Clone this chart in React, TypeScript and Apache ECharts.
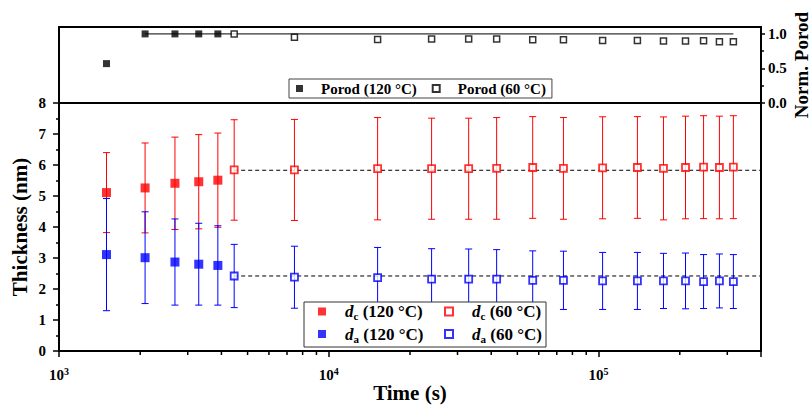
import React, { useEffect, useRef } from "react";
import * as echarts from "echarts";

const FONT = "Liberation Serif, Times New Roman, serif";

// time (s)
const time120 = [1500, 2085, 2690, 3296, 3880];
const time60 = [4460, 7460, 15170, 24050, 33000, 41900, 57000, 74100, 103500, 139300, 174000, 210000, 245000, 280500, 316000];

// normalized Porod
const porod120 = [0.57, 1.0, 1.0, 1.0, 1.0];
const porod60 = [1.0, 0.95, 0.92, 0.925, 0.925, 0.925, 0.917, 0.917, 0.906, 0.906, 0.896, 0.896, 0.9, 0.887, 0.887];
const porodRef = 1.0;

// thickness (nm)
const dc120 = [5.11, 5.26, 5.41, 5.46, 5.51];
const dc120Err = [1.29, 1.45, 1.49, 1.52, 1.52];
const da120 = [3.11, 3.01, 2.87, 2.8, 2.76];
const da120Err = [1.81, 1.48, 1.39, 1.32, 1.28];

const dc60 = [5.84, 5.84, 5.88, 5.88, 5.88, 5.89, 5.92, 5.89, 5.91, 5.92, 5.89, 5.92, 5.93, 5.92, 5.93];
const dc60Err = [1.62, 1.63, 1.65, 1.63, 1.63, 1.64, 1.64, 1.64, 1.645, 1.64, 1.66, 1.655, 1.66, 1.655, 1.66];
const da60 = [2.42, 2.38, 2.37, 2.32, 2.32, 2.32, 2.28, 2.28, 2.26, 2.26, 2.26, 2.26, 2.24, 2.26, 2.24];
const da60Err = [1.02, 1.0, 0.97, 0.98, 0.97, 0.95, 0.95, 0.94, 0.92, 0.92, 0.89, 0.9, 0.87, 0.87, 0.87];

const dcMean60 = 5.83;
const daMean60 = 2.42;

const xMin = 1000;
const xMax = 400000;
const minorTickValues = [2000, 3000, 4000, 5000, 6000, 7000, 8000, 9000, 20000, 30000, 40000, 50000, 60000, 70000, 80000, 90000, 200000, 300000];

const RED = "#ff0000";
const BLUE = "#0000ff";

const legendNames: Record<string, [string, string]> = {
  dc120: ["c", " (120 °C)"],
  da120: ["a", " (120 °C)"],
  dc60: ["c", " (60 °C)"],
  da60: ["a", " (60 °C)"],
};

function pairs(xs: number[], ys: number[]) {
  return xs.map((x, i) => [x, ys[i]]);
}
function errData(xs: number[], ys: number[], es: number[]) {
  return xs.map((x, i) => [x, ys[i] - es[i], ys[i] + es[i]]);
}

function errorBarSeries(name: string, data: number[][], color: string) {
  return {
    name,
    type: "custom",
    xAxisIndex: 1,
    yAxisIndex: 1,
    z: 2,
    silent: true,
    encode: { x: 0, y: [1, 2] },
    data,
    renderItem: (params: any, api: any) => {
      const x = api.value(0);
      const lo = api.coord([x, api.value(1)]);
      const hi = api.coord([x, api.value(2)]);
      const hw = 3.5;
      const style = { stroke: color, lineWidth: 1 };
      return {
        type: "group",
        children: [
          { type: "line", shape: { x1: lo[0], y1: lo[1], x2: hi[0], y2: hi[1] }, style },
          { type: "line", shape: { x1: hi[0] - hw, y1: hi[1], x2: hi[0] + hw, y2: hi[1] }, style },
          { type: "line", shape: { x1: lo[0] - hw, y1: lo[1], x2: lo[0] + hw, y2: lo[1] }, style },
        ],
      };
    },
  };
}

const isPow10 = (v: number) => {
  const l = Math.log10(v);
  return Math.abs(l - Math.round(l)) < 1e-6;
};

export default function App() {
  const ref = useRef<HTMLDivElement>(null);
  useEffect(() => {
    document.body.style.margin = "0";
    const chart = echarts.init(ref.current!, undefined, { renderer: "svg" });
    const bold = { fontFamily: FONT, fontWeight: "bold" as const, color: "#000" };
    const legendRich = {
      i: { ...bold, fontStyle: "italic", fontSize: 17, lineHeight: 20, padding: [0, 0, 0, 14] },
      s: { ...bold, fontSize: 11, lineHeight: 11, verticalAlign: "bottom" },
      t: { ...bold, fontSize: 17, lineHeight: 20 },
    };
    const legendFmt = (name: string) => {
      const [sub, rest] = legendNames[name];
      return `{i|d}{s|${sub}}{t|${rest}}`;
    };
    const gridBase = {
      left: 59,
      right: 50,
      show: true,
      borderColor: "#000",
      borderWidth: 2,
      backgroundColor: "transparent",
      containLabel: false,
      outerBoundsMode: "none",
    };
    const option: any = {
      animation: false,
      backgroundColor: "#fff",
      textStyle: { fontFamily: FONT },
      grid: [
        { ...gridBase, top: 27, height: 76 },
        { ...gridBase, top: 103, height: 248 },
      ],
      xAxis: [
        { type: "log", gridIndex: 0, min: xMin, max: xMax, logBase: 10, show: false },
        {
          type: "log",
          gridIndex: 1,
          min: xMin,
          max: xMax,
          logBase: 10,
          axisLine: { onZero: false, lineStyle: { color: "#000", width: 2 } },
          axisTick: { show: true, length: 6, lineStyle: { color: "#000", width: 1.5 } },
          splitLine: { show: false },
          axisLabel: {
            margin: 15,
            formatter: (v: number) => (isPow10(v) ? `{b|10}{e|${Math.round(Math.log10(v))}}` : ""),
            rich: {
              b: { ...bold, fontSize: 15, lineHeight: 18 },
              e: { ...bold, fontSize: 10, lineHeight: 10, verticalAlign: "top" },
            },
          },
          name: "Time (s)",
          nameLocation: "middle",
          nameGap: 31,
          nameMoveOverlap: false,
          nameTextStyle: { ...bold, fontSize: 21 },
        },
      ],
      yAxis: [
        {
          type: "value",
          gridIndex: 0,
          position: "right",
          min: 0,
          max: 1.1,
          splitLine: { show: false },
          axisLine: { show: true, lineStyle: { color: "#000", width: 2 } },
          axisTick: { show: true, length: 4, customValues: [0, 0.5, 1], lineStyle: { color: "#000", width: 1.5 } },
          axisLabel: { ...bold, fontSize: 15, margin: 7, customValues: [0, 0.5, 1], formatter: (v: number) => v.toFixed(1) },
          name: "Norm. Porod",
          nameLocation: "middle",
          nameRotate: 90,
          nameGap: 31,
          nameMoveOverlap: false,
          nameTextStyle: { ...bold, fontSize: 19 },
        },
        {
          type: "value",
          gridIndex: 1,
          min: 0,
          max: 8,
          interval: 1,
          splitLine: { show: false },
          axisLine: { show: true, lineStyle: { color: "#000", width: 2 } },
          axisTick: { show: true, length: 6, lineStyle: { color: "#000", width: 1.5 } },
          minorTick: { show: true, splitNumber: 2, length: 3, lineStyle: { color: "#000", width: 1.5 } },
          axisLabel: { ...bold, fontSize: 15, margin: 13 },
          name: "Thickness (nm)",
          nameLocation: "middle",
          nameGap: 29,
          nameMoveOverlap: false,
          nameTextStyle: { ...bold, fontSize: 21 },
        },
        {
          type: "value",
          gridIndex: 0,
          position: "right",
          min: 0,
          max: 1.1,
          splitLine: { show: false },
          axisLine: { show: false },
          axisTick: { show: true, length: 3, customValues: [0.25, 0.75], lineStyle: { color: "#000", width: 1.5 } },
          axisLabel: { show: false },
        },
      ],
      legend: [
        {
          data: ["Porod (120 °C)", "Porod (60 °C)"],
          left: 289,
          top: 79,
          orient: "horizontal",
          itemWidth: 7,
          itemHeight: 7,
          itemGap: 15,
          padding: [2, 6, 2, 7],
          borderColor: "#444",
          borderWidth: 1,
          backgroundColor: "#fff",
          selectedMode: false,
          formatter: (n: string) => `{p|${n}}`,
          textStyle: { ...bold, fontSize: 15, rich: { p: { ...bold, fontSize: 15, lineHeight: 17, padding: [0, 0, 0, 13] } } },
        },
        {
          data: ["dc120", "da120"],
          left: 318,
          top: 303,
          orient: "vertical",
          itemWidth: 8,
          itemHeight: 8,
          itemGap: 4,
          padding: 0,
          selectedMode: false,
          formatter: legendFmt,
          textStyle: { ...bold, fontSize: 17, rich: legendRich },
        },
        {
          data: ["dc60", "da60"],
          left: 444,
          top: 303,
          orient: "vertical",
          itemWidth: 8,
          itemHeight: 8,
          itemGap: 4,
          padding: 0,
          selectedMode: false,
          formatter: legendFmt,
          textStyle: { ...bold, fontSize: 17, rich: legendRich },
        },
      ],
      graphic: [
        {
          type: "rect",
          z: 3,
          shape: { x: 304, y: 302, width: 242, height: 45 },
          style: { fill: "#fff", stroke: "#333", lineWidth: 1 },
          silent: true,
        },
      ],
      series: [
        {
          name: "porodRef",
          type: "line",
          xAxisIndex: 0,
          yAxisIndex: 0,
          data: [[time120[1], porodRef], [time60[time60.length - 1], porodRef]],
          symbol: "none",
          lineStyle: { color: "#000", width: 1 },
          silent: true,
          z: 2,
        },
        {
          name: "Porod (120 °C)",
          type: "scatter",
          xAxisIndex: 0,
          yAxisIndex: 0,
          symbol: "rect",
          symbolSize: 7,
          itemStyle: { color: "#000" },
          data: pairs(time120, porod120),
          z: 3,
        },
        {
          name: "Porod (60 °C)",
          type: "scatter",
          xAxisIndex: 0,
          yAxisIndex: 0,
          symbol: "rect",
          symbolSize: 6,
          itemStyle: { color: "#fff", borderColor: "#000", borderWidth: 1.5 },
          data: pairs(time60, porod60),
          z: 3,
        },
        {
          name: "minorTicks",
          type: "custom",
          xAxisIndex: 1,
          yAxisIndex: 1,
          silent: true,
          clip: false,
          z: 5,
          encode: { x: 0, y: 1 },
          data: minorTickValues.map((v) => [v, 0]),
          renderItem: (params: any, api: any) => {
            const p = api.coord([api.value(0), 0]);
            return { type: "line", shape: { x1: p[0], y1: p[1], x2: p[0], y2: p[1] + 4 }, style: { stroke: "#000", lineWidth: 1.5 } };
          },
        },
        {
          name: "dcRef",
          type: "line",
          xAxisIndex: 1,
          yAxisIndex: 1,
          data: [[time60[0], dcMean60], [xMax, dcMean60]],
          symbol: "none",
          lineStyle: { color: "#000", width: 1, type: [4, 3] },
          silent: true,
          z: 2,
        },
        {
          name: "daRef",
          type: "line",
          xAxisIndex: 1,
          yAxisIndex: 1,
          data: [[time60[0], daMean60], [xMax, daMean60]],
          symbol: "none",
          lineStyle: { color: "#000", width: 1, type: [4, 3] },
          silent: true,
          z: 2,
        },
        errorBarSeries("dc120err", errData(time120, dc120, dc120Err), RED),
        errorBarSeries("da120err", errData(time120, da120, da120Err), BLUE),
        errorBarSeries("dc60err", errData(time60, dc60, dc60Err), RED),
        errorBarSeries("da60err", errData(time60, da60, da60Err), BLUE),
        {
          name: "dc120",
          type: "scatter",
          xAxisIndex: 1,
          yAxisIndex: 1,
          symbol: "rect",
          symbolSize: 9,
          itemStyle: { color: RED },
          data: pairs(time120, dc120),
          z: 3,
        },
        {
          name: "da120",
          type: "scatter",
          xAxisIndex: 1,
          yAxisIndex: 1,
          symbol: "rect",
          symbolSize: 9,
          itemStyle: { color: BLUE },
          data: pairs(time120, da120),
          z: 3,
        },
        {
          name: "dc60",
          type: "scatter",
          xAxisIndex: 1,
          yAxisIndex: 1,
          symbol: "rect",
          symbolSize: 7,
          itemStyle: { color: "#fff", borderColor: RED, borderWidth: 1.8 },
          data: pairs(time60, dc60),
          z: 3,
        },
        {
          name: "da60",
          type: "scatter",
          xAxisIndex: 1,
          yAxisIndex: 1,
          symbol: "rect",
          symbolSize: 7,
          itemStyle: { color: "#fff", borderColor: BLUE, borderWidth: 1.8 },
          data: pairs(time60, da60),
          z: 3,
        },
      ],
    };
    chart.setOption(option);
    return () => chart.dispose();
  }, []);
  return <div ref={ref} style={{ width: 811, height: 406 }} />;
}
